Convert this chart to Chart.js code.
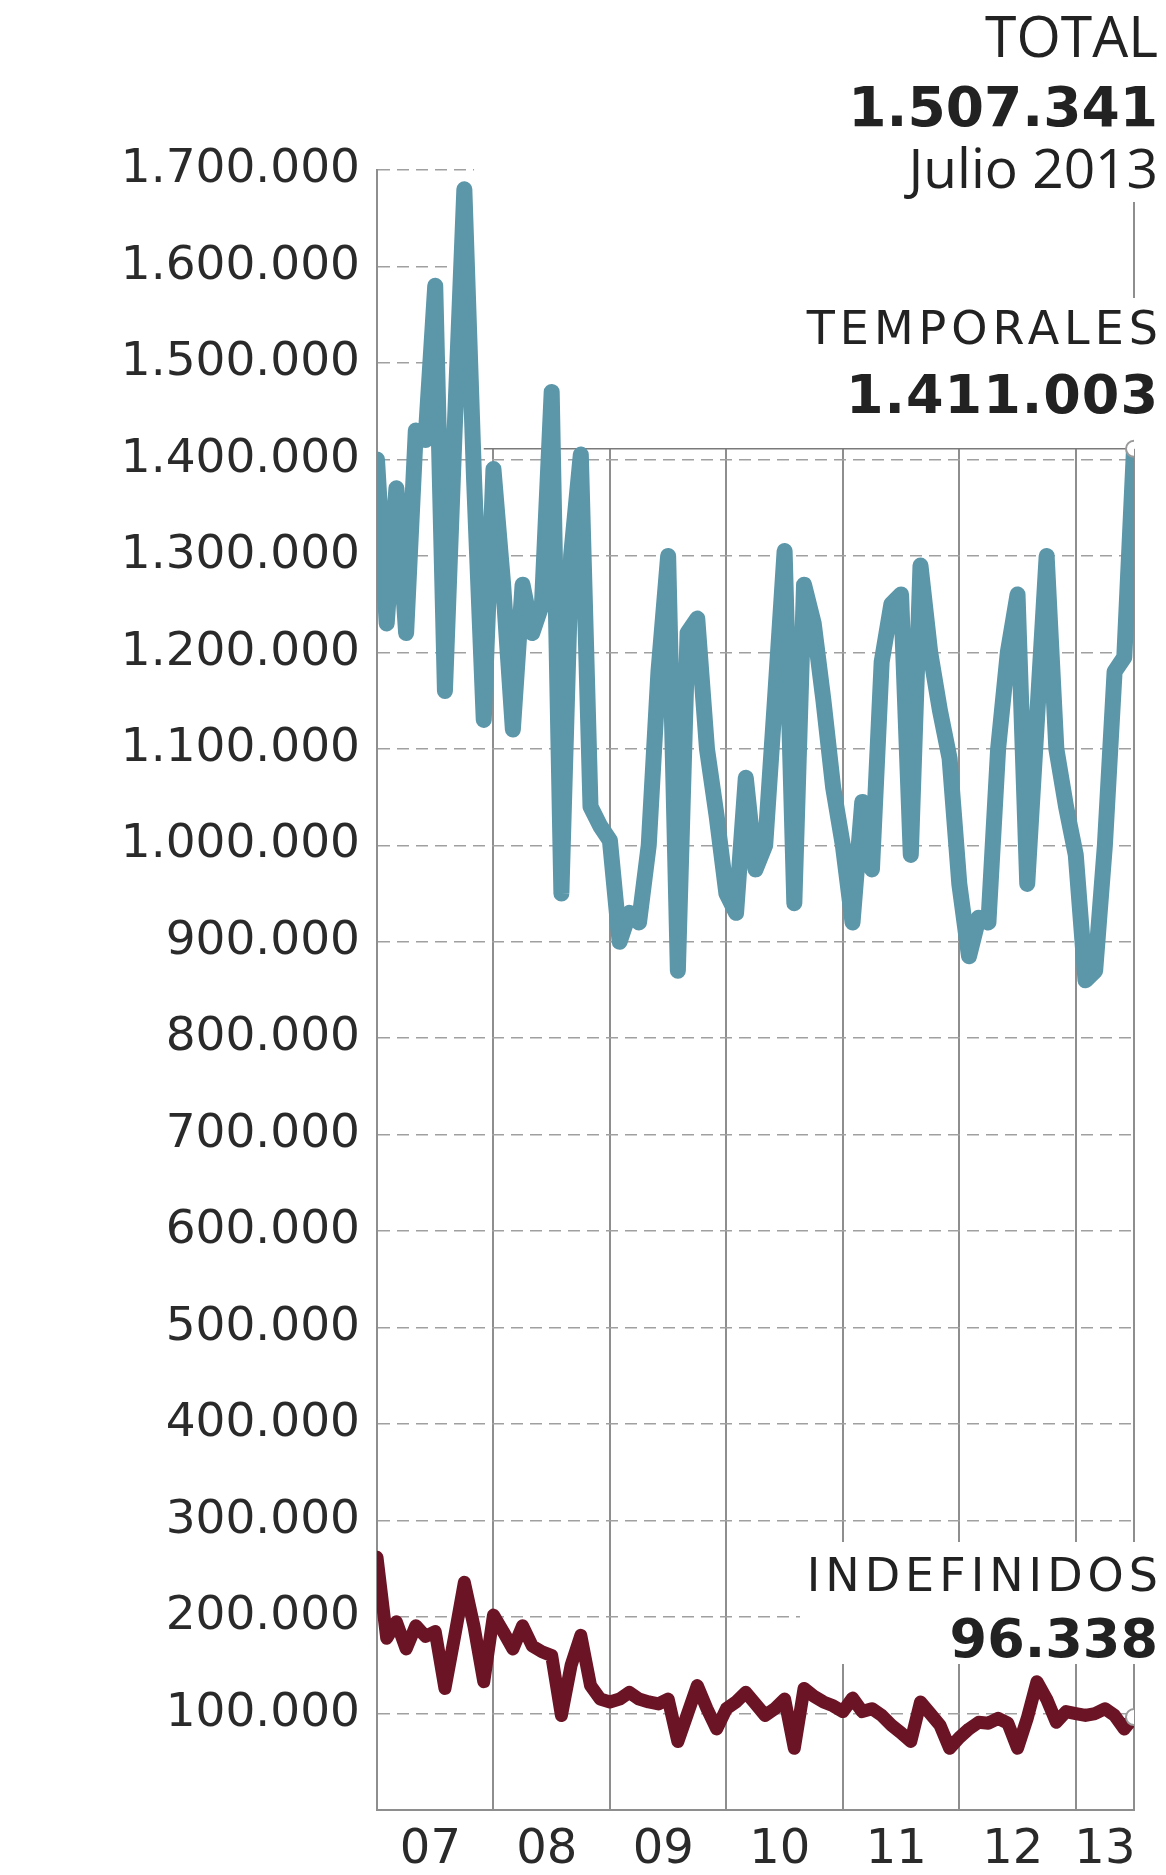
<!DOCTYPE html>
<html lang="es">
<head>
<meta charset="utf-8">
<title>Contratos temporales e indefinidos</title>
<script src="https://cdn.jsdelivr.net/npm/chart.js@4.4.1/dist/chart.umd.min.js"></script>
<style>
  html, body { margin: 0; padding: 0; background: #fff; }
  #wrap { width: 1166px; height: 1875px; }
</style>
</head>
<body>
<div id="wrap"><canvas id="myChart" width="1166" height="1875"></canvas></div>
<script>
'use strict';

// monthly contracts, jan 2007 -> jul 2013 (79 months)
let temporales = [
  1400000, 1230000, 1370000, 1220000, 1430000, 1420000, 1580000, 1160000, 1430000, 1680000, 1380000, 1130000,
  1390000, 1270000, 1120000, 1270000, 1220000, 1250000, 1470000, 950000, 1300000, 1405000, 1040000, 1020000,
  1005000, 900000, 930000, 920000, 1000000, 1180000, 1300000, 870000, 1220000, 1235000, 1100000, 1030000,
  950000, 930000, 1070000, 975000, 1000000, 1150000, 1305000, 940000, 1270000, 1230000, 1150000, 1060000,
  1000000, 920000, 1045000, 975000, 1190000, 1250000, 1260000, 990000, 1290000, 1200000, 1140000, 1090000,
  960000, 885000, 925000, 920000, 1100000, 1200000, 1260000, 960000, 1130000, 1300000, 1100000, 1040000,
  990000, 860000, 870000, 1000000, 1180000, 1195000, 1411003
];
let indefinidos = [
  262000, 178000, 195000, 167000, 191000, 180000, 185000, 126000, 180000, 236000, 190000, 133000,
  202000, 185000, 167000, 191000, 170000, 164000, 160000, 98000, 150000, 181000, 129000, 115000,
  112000, 115000, 122000, 115000, 112000, 110000, 115000, 71000, 100000, 129000, 105000, 84000,
  105000, 112000, 122000, 110000, 98000, 105000, 115000, 64000, 126000, 118000, 112000, 108000,
  102000, 116000, 102000, 105000, 98000, 88000, 80000, 71000, 112000, 100000, 88000, 64000,
  75000, 84000, 91000, 90000, 95000, 90000, 64000, 95000, 133000, 115000, 91000, 102000,
  100000, 98000, 100000, 105000, 98000, 84000, 96338
];
let total = 1507341;
let yearLabels = ['07', '08', '09', '10', '11', '12', '13'];
let yearLabelPos = [5.5, 17.5, 29.5, 41.5, 53.5, 65.5, 75];
let yearLines = [12, 24, 36, 48, 60, 72, 78];
let yTicks = [100000, 200000, 300000, 400000, 500000, 600000, 700000, 800000, 900000,
  1000000, 1100000, 1200000, 1300000, 1400000, 1500000, 1600000, 1700000];

let lastIndex = temporales.length - 1;

function fmt(n){
  return String(n).replace(/\B(?=(\d{3})+(?!\d))/g, '.');
}

function toPoints(arr){
  return arr.map((v, i) => ({x: i, y: v}));
}

// white panel over the upper grid + the reference line at the last value
let labelsPlugin = {
  id: 'labels',
  beforeDatasetsDraw(chart){
    let ctx = chart.ctx;
    let xs = chart.scales.x;
    let ys = chart.scales.y;
    let y = ys.getPixelForValue(temporales[lastIndex]);
    let x0 = xs.getPixelForValue(10);
    ctx.save();
    ctx.fillStyle = '#fff';
    ctx.fillRect(x0, ys.top - 2, xs.right - x0 + 2, y - ys.top + 2);
    ctx.strokeStyle = '#7a7a7a';
    ctx.lineWidth = 1.5;
    ctx.beginPath();
    ctx.moveTo(xs.getPixelForValue(11), y);
    ctx.lineTo(xs.getPixelForValue(lastIndex), y);
    ctx.stroke();
    ctx.restore();
  },
  afterDraw(chart){
    let ctx = chart.ctx;
    let xs = chart.scales.x;
    let right = 1158;
    let lastX = xs.getPixelForValue(lastIndex);

    ctx.save();
    // Julio line under the total
    ctx.strokeStyle = '#8e8e8e';
    ctx.lineWidth = 2;
    ctx.beginPath();
    ctx.moveTo(lastX, 202);
    ctx.lineTo(lastX, 298);
    ctx.stroke();

    ctx.fillStyle = '#fff';
    ctx.fillRect(792, 300, 374, 122);
    ctx.fillRect(800, 1542, 366, 122);

    ctx.fillStyle = '#222';
    ctx.textAlign = 'right';
    ctx.textBaseline = 'alphabetic';

    ctx.font = '57px "Open Sans"';
    ctx.fillText('TOTAL', right, 57);
    ctx.font = 'bold 55px "DejaVu Sans"';
    ctx.fillText(fmt(total), right, 126);
    ctx.font = '55px "Open Sans"';
    ctx.fillText('Julio 2013', right, 188);

    ctx.letterSpacing = '5px';
    ctx.font = '46px "DejaVu Sans"';
    ctx.fillText('TEMPORALES', right + 5, 344);
    ctx.fillText('INDEFINIDOS', right + 5, 1591);
    ctx.letterSpacing = '1px';
    ctx.font = 'bold 54px "DejaVu Sans"';
    ctx.fillText(fmt(temporales[lastIndex]), right + 1, 413);
    ctx.letterSpacing = '0px';
    ctx.fillText(fmt(indefinidos[lastIndex]), right, 1657);
    ctx.restore();
  }
};

const ctx = document.getElementById('myChart');

new Chart(ctx, {
  type: 'line',
  data: {
    datasets: [{
      label: 'Temporales',
      data: toPoints(temporales),
      borderColor: '#5c96a9',
      borderWidth: 16,
      borderJoinStyle: 'round',
      borderCapStyle: 'round',
      tension: 0,
      pointRadius: (c) => c.dataIndex === lastIndex ? 8 : 0,
      pointBackgroundColor: '#fff',
      pointBorderColor: '#9a9a9a',
      pointBorderWidth: 2
    },
    {
      label: 'Indefinidos',
      data: toPoints(indefinidos),
      borderColor: '#6a1425',
      borderWidth: 13,
      borderJoinStyle: 'round',
      borderCapStyle: 'round',
      tension: 0,
      pointRadius: (c) => c.dataIndex === lastIndex ? 8 : 0,
      pointBackgroundColor: '#fff',
      pointBorderColor: '#9a9a9a',
      pointBorderWidth: 2
    }]
  },
  options: {
    responsive: false,
    animation: false,
    layout: {padding: {top: 170, right: 32, left: 0, bottom: 0}},
    plugins: {
      legend: {display: false},
      tooltip: {enabled: false}
    },
    scales: {
      x: {
        type: 'linear',
        position: 'bottom',
        weight: 0,
        min: 0,
        max: lastIndex,
        afterBuildTicks: (s) => { s.ticks = yearLines.map(v => ({value: v})); },
        afterFit: (s) => { s.height = 0; },
        ticks: {display: false},
        grid: {color: '#8e8e8e', lineWidth: 2, drawTicks: false},
        border: {color: '#8e8e8e', width: 2}
      },
      xYears: {
        type: 'linear',
        position: 'bottom',
        weight: 1,
        min: 0,
        max: lastIndex,
        afterBuildTicks: (s) => { s.ticks = yearLabelPos.map(v => ({value: v})); },
        afterFit: (s) => { s.height = 65; },
        ticks: {
          callback: (v, i) => yearLabels[i],
          font: {family: '"DejaVu Sans"', size: 48},
          color: '#2a2a2a',
          padding: 12,
          maxRotation: 0,
          autoSkip: false
        },
        grid: {display: false, drawTicks: false},
        border: {display: false}
      },
      y: {
        min: 0,
        max: 1700000,
        afterBuildTicks: (s) => { s.ticks = yTicks.map(v => ({value: v})); },
        afterFit: (s) => { s.width = 377; },
        ticks: {
          callback: (v) => fmt(v),
          font: {family: '"DejaVu Sans"', size: 47},
          color: '#2a2a2a',
          padding: 17
        },
        grid: {color: '#a0a0a0', lineWidth: 1.5, drawTicks: false},
        border: {color: '#8e8e8e', width: 2, dash: [12, 7]}
      }
    }
  },
  plugins: [labelsPlugin]
});
</script>
</body>
</html>
